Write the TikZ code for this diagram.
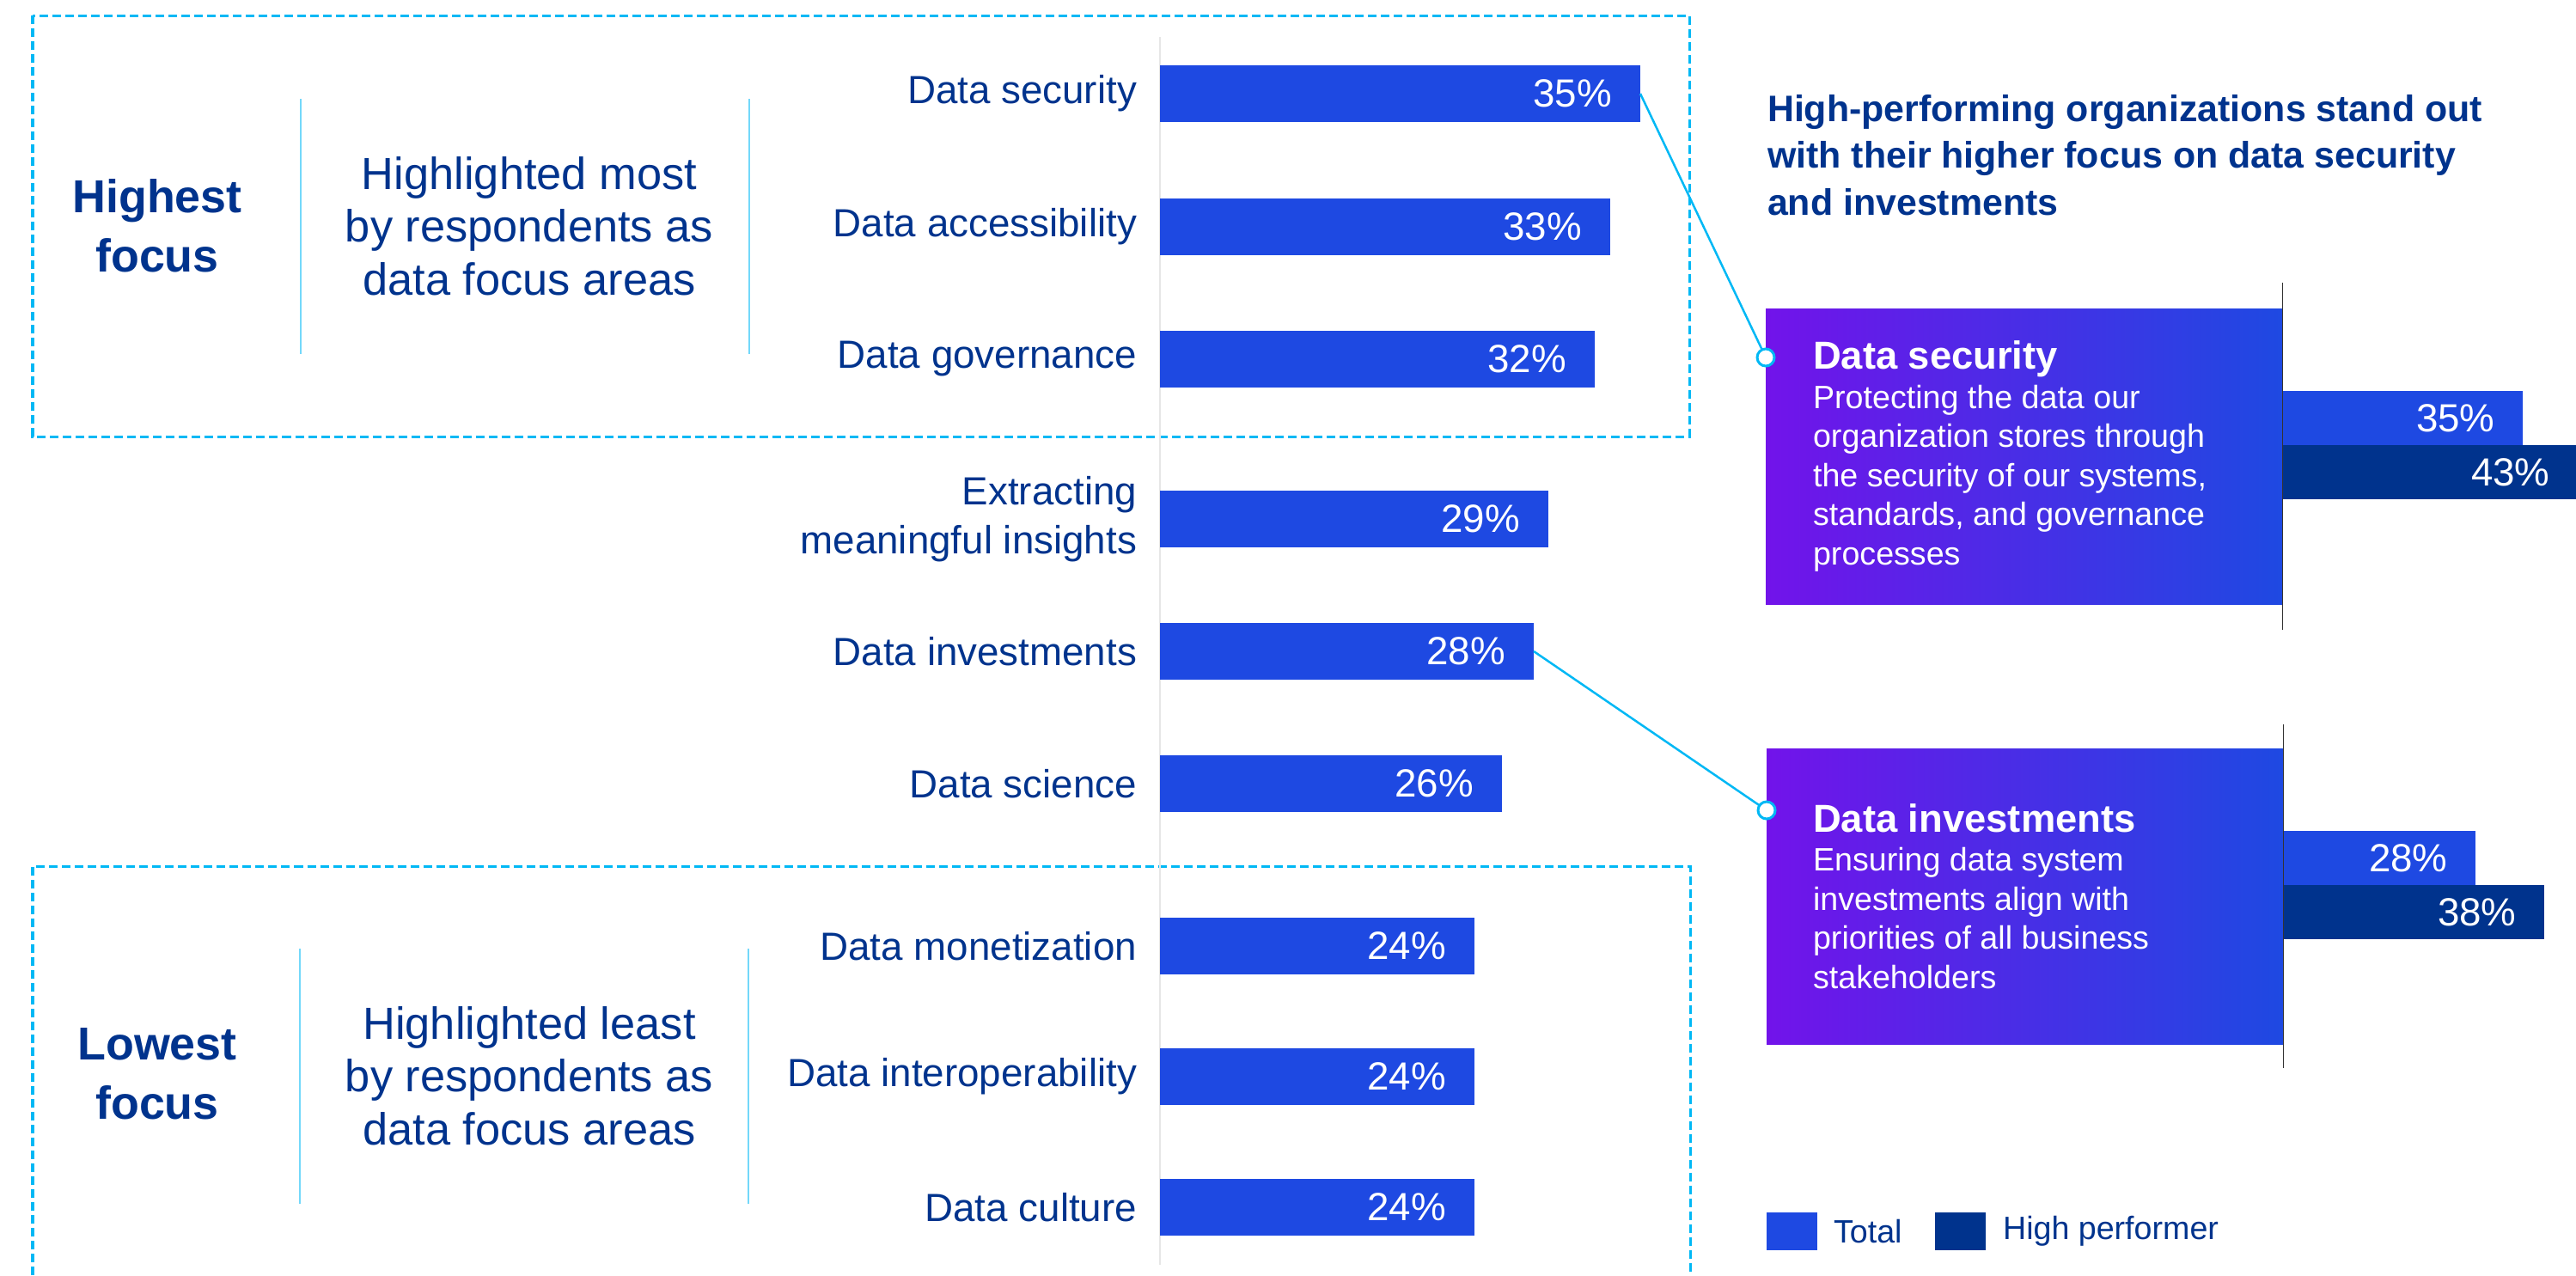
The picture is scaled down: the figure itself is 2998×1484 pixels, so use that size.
\documentclass[tikz,border=0pt]{standalone}
\usepackage{fontspec}
\setmainfont{Liberation Sans}
\usetikzlibrary{positioning}
\definecolor{kpmgblue}{HTML}{00338D}
\definecolor{cobalt}{HTML}{1E49E2}
\definecolor{skyline}{HTML}{00B8F5}
\definecolor{kpurple}{HTML}{7213EA}
\definecolor{axisgray}{HTML}{E6E6E6}
\begin{document}
\begin{tikzpicture}[x=0.01cm, y=-0.01cm,
  every node/.style = {inner sep=0pt, outer sep=0pt},
  focusbox/.style = {draw=skyline, line width=0.03cm, dash pattern=on 0.1cm off 0.05cm},
  divider/.style = {draw=skyline!55, line width=0.02cm},
  bar/.style = {fill=cobalt, minimum height=0.66cm, anchor=west},
  cardbar/.style = {minimum height=0.63cm},
  pct/.style = {text=white, font=\fontsize{13pt}{15.6pt}\selectfont},
  barlabel/.style = {text=kpmgblue, align=right, font=\fontsize{13pt}{16.3pt}\selectfont},
  focustitle/.style = {text=kpmgblue, align=center, font=\fontsize{15.3pt}{19.6pt}\selectfont\bfseries},
  focustext/.style = {text=kpmgblue, align=center, font=\fontsize{14.9pt}{17.5pt}\selectfont},
  card/.style = {left color=kpurple, right color=cobalt, minimum width=6.01cm, minimum height=3.44cm, anchor=north west},
  cardtext/.style = {text=white, align=left, font=\fontsize{10.7pt}{12.95pt}\selectfont},
  dot/.style = {circle, draw=skyline, fill=white, line width=0.03cm, minimum size=0.2cm},
  link/.style = {draw=skyline, line width=0.025cm},
  legbox/.style = {minimum width=0.59cm, minimum height=0.44cm, anchor=west},
  legtext/.style = {text=kpmgblue, font=\fontsize{10.7pt}{12.9pt}\selectfont}
  ]
  \useasboundingbox (0,0) rectangle (2998,1484);

  % focus groups
  \draw[focusbox] (38,18) rectangle (1966,508);
  \draw[focusbox] (38,1484) |- (1967,1008) -- (1967,1484);
  \draw[divider] (350,115) -- (350,412);
  \draw[divider] (872,115) -- (872,412);
  \draw[divider] (349,1104) -- (349,1401);
  \draw[divider] (871,1104) -- (871,1401);
  \node[focustitle] (high) at (183,263) {Highest\\focus};
  \node[focustext] (hightext) at (616,263) {Highlighted most\\by respondents as\\data focus areas};
  \node[focustitle] (low) at (183,1250) {Lowest\\focus};
  \node[focustext] (lowtext) at (616,1252) {Highlighted least\\by respondents as\\data focus areas};

  % bar chart
  \draw[axisgray, line width=0.015cm] (1350,43) -- (1350,1472);
  \foreach \y/\xe/\v/\lab [count=\i] in {109/1909/35/{Data security},
      264/1874/33/{Data accessibility}, 418/1856/32/{Data governance},
      604/1802/29/{Extracting\\meaningful insights}, 758/1785/28/{Data investments},
      912/1748/26/{Data science}, 1101/1716/24/{Data monetization},
      1253/1716/24/{Data interoperability}, 1405/1716/24/{Data culture}} {
    \node[bar, minimum width={(\xe-1350)*0.01cm}] (bar\i) at (1350,\y) {};
    \node[pct, left=0.33cm of bar\i.east] (pct\i) {\v\%};
    \node[barlabel, left=0.27cm of bar\i] (lab\i) {\lab};
  }

  % high performers
  \node[anchor=north west, text=kpmgblue, align=left,
    font=\fontsize{12.2pt}{15.5pt}\selectfont\bfseries] (headline) at (2057,110)
    {High-performing organizations stand out\\with their higher focus on data security\\and investments};

  \node[card] (card1) at (2055,359) {};
  \node[cardtext, right=0.55cm of card1.west] (text1)
    {{\fontsize{12.9pt}{12.95pt}\selectfont\bfseries Data security}\\Protecting the data our\\organization stores through\\the security of our systems,\\standards, and governance\\processes};
  \node[cardbar, fill=cobalt, minimum width=2.79cm, anchor=south west] (tot1) at ([yshift=0.13cm]card1.east) {};
  \node[cardbar, fill=kpmgblue, minimum width=3.43cm, anchor=north west] (hp1) at (tot1.south west) {};
  \node[pct, left=0.32cm of tot1.east] {35\%};
  \node[pct, left=0.32cm of hp1.east] {43\%};
  \draw[black!80, line width=0.015cm] ([yshift=0.3cm]card1.north east) -- ([yshift=-0.3cm]card1.south east);

  \node[card] (card2) at (2056,871) {};
  \node[cardtext, right=0.54cm of card2.west] (text2)
    {{\fontsize{12.9pt}{12.95pt}\selectfont\bfseries Data investments}\\Ensuring data system\\investments align with\\priorities of all business\\stakeholders};
  \node[cardbar, fill=cobalt, minimum width=2.23cm, anchor=south west] (tot2) at ([yshift=0.13cm]card2.east) {};
  \node[cardbar, fill=kpmgblue, minimum width=3.03cm, anchor=north west] (hp2) at (tot2.south west) {};
  \node[pct, left=0.32cm of tot2.east] {28\%};
  \node[pct, left=0.32cm of hp2.east] {38\%};
  \draw[black!80, line width=0.015cm] ([yshift=0.28cm]card2.north east) -- ([yshift=-0.28cm]card2.south east);

  % links
  \node[dot] (dot1) at (2055,416) {};
  \node[dot] (dot2) at (2056,943) {};
  \draw[link] (bar1.east) -- (dot1);
  \draw[link] (bar5.east) -- (dot2);

  % legend
  \node[legbox, fill=cobalt] (legtot) at (2056,1433) {};
  \node[legtext, right=0.19cm of legtot] {Total};
  \node[legbox, fill=kpmgblue] (leghp) at (2252,1433) {};
  \node[legtext, right=0.2cm of leghp] {High performer};
\end{tikzpicture}
\end{document}
